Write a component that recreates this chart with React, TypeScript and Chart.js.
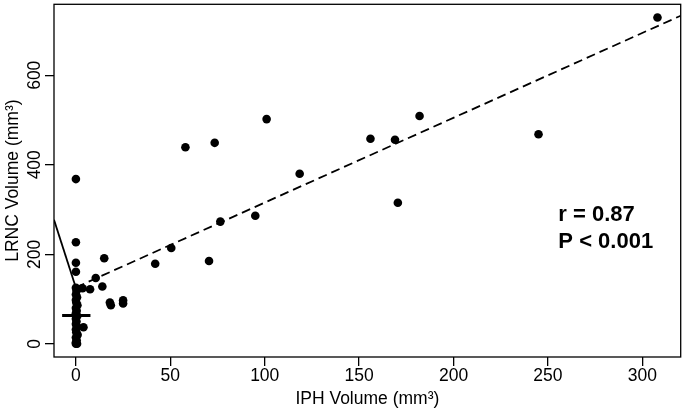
import { useEffect, useRef } from "react";
import { Chart, registerables } from "chart.js";

Chart.register(...registerables);

// IPH volume (x) and LRNC volume (y) for each plaque, in mm³
const iphVolume = [
  308, 245, 182, 169, 156, 170.5, 118.5, 101, 95, 76.5, 73.5, 70.5, 58, 50.5, 42,
  25, 25, 18, 18.5, 15, 14, 10.5, 7.5, 3.5, 4,
  0, 0, 0, 0, 0,
  0.3, 0, 0.6, 0, 0.2, 0.8, 0, 0.4, 0, 0.7, 0, 0.3, 0, 0.6, 0, 0.2, 0.9, 0, 0.4, 0, 0.6, 0,
];
const lrncVolume = [
  729, 468, 509, 456, 458, 315, 380, 502, 286, 273, 449, 185, 439, 214, 179,
  97, 90, 92, 86, 191, 128, 147, 122, 124, 37,
  368, 227, 181, 161, 125,
  118, 110, 104, 98, 92, 86, 80, 74, 68, 62, 56, 50, 44, 38, 32, 26, 20, 14, 8, 3, 0, 0,
];

const xTicks = [0, 50, 100, 150, 200, 250, 300];
const yTicks = [0, 200, 400, 600];
const xRange = [-11.6, 320.3];
const yRange = [-29.5, 758.5];

// regression line (dashed), left solid segment, and median marker
const fitLineX = [0, 320.3];
const fitLineY = [126, 733];
const leftLineX = [-11.6, 0];
const leftLineY = [277, 125];
const markerX = [-7.3, 7.7];
const markerY = [63, 63];

const statLabels = ["r = 0.87", "P < 0.001"];
const statAnchor = [255.5, 274];

const FONT = "'Liberation Sans', Arial, Helvetica, sans-serif";

const toXY = (xs: number[], ys: number[]) => xs.map((x, i) => ({ x, y: ys[i] }));

export default function App() {
  const ref = useRef<HTMLCanvasElement | null>(null);

  useEffect(() => {
    document.body.style.margin = "0";
    const canvas = ref.current;
    if (!canvas) return;

    const boxPlugin = {
      id: "boxAndStats",
      afterDraw(chart: any) {
        const { ctx, chartArea } = chart;
        ctx.save();
        ctx.strokeStyle = "#000";
        ctx.lineWidth = 1.3;
        ctx.strokeRect(chartArea.left, chartArea.top, chartArea.right - chartArea.left, chartArea.bottom - chartArea.top);
        const xs = chart.scales.x;
        const ys = chart.scales.y;
        const px = xs.getPixelForValue(statAnchor[0]);
        const py = ys.getPixelForValue(statAnchor[1]);
        ctx.fillStyle = "#000";
        ctx.font = `bold 22px ${FONT}`;
        ctx.textAlign = "left";
        ctx.textBaseline = "alphabetic";
        statLabels.forEach((t, i) => ctx.fillText(t, px, py + i * 27));
        ctx.restore();
      },
    };

    const chart = new Chart(canvas, {
      type: "scatter",
      data: {
        datasets: [
          {
            type: "scatter",
            data: toXY(iphVolume, lrncVolume),
            pointRadius: 4.3,
            pointHoverRadius: 4.3,
            backgroundColor: "#000",
            borderWidth: 0,
          },
          {
            type: "line",
            data: toXY(fitLineX, fitLineY),
            borderColor: "#000",
            borderWidth: 1.8,
            borderDash: [9, 5],
            pointRadius: 0,
            fill: false,
          },
          {
            type: "line",
            data: toXY(leftLineX, leftLineY),
            borderColor: "#000",
            borderWidth: 1.8,
            pointRadius: 0,
            fill: false,
          },
          {
            type: "line",
            data: toXY(markerX, markerY),
            borderColor: "#000",
            borderWidth: 3,
            pointRadius: 0,
            fill: false,
          },
        ],
      } as any,
      options: {
        animation: false,
        responsive: false,
        devicePixelRatio: 1,
        layout: { padding: { top: 1, right: 2, left: 0, bottom: 0 } },
        plugins: { legend: { display: false }, tooltip: { enabled: false } },
        scales: {
          x: {
            type: "linear",
            min: xRange[0],
            max: xRange[1],
            afterBuildTicks: (s: any) => {
              s.ticks = xTicks.map((v) => ({ value: v }));
            },
            afterFit: (s: any) => {
              s.height = 53;
              s.paddingLeft = 0;
              s.paddingRight = 0;
              s.paddingTop = 0;
              s.paddingBottom = 0;
            },
            border: { display: false },
            grid: { display: true, drawOnChartArea: false, drawTicks: true, tickLength: 9, color: "#000", lineWidth: 1.3 },
            ticks: { color: "#000", font: { family: FONT, size: 17.5 }, padding: 0, maxRotation: 0, minRotation: 0 },
            title: { display: true, text: "IPH Volume (mm³)", color: "#000", font: { family: FONT, size: 17.5 }, padding: { top: 0, bottom: 0 } },
          },
          y: {
            type: "linear",
            min: yRange[0],
            max: yRange[1],
            afterBuildTicks: (s: any) => {
              s.ticks = yTicks.map((v) => ({ value: v }));
            },
            afterFit: (s: any) => {
              s.width = 54;
              s.paddingLeft = 0;
              s.paddingRight = 0;
              s.paddingTop = 0;
              s.paddingBottom = 0;
            },
            border: { display: false },
            grid: { display: true, drawOnChartArea: false, drawTicks: true, tickLength: 9, color: "#000", lineWidth: 1.3 },
            ticks: { color: "#000", font: { family: FONT, size: 17.5 }, padding: -5, minRotation: 90, maxRotation: 90, crossAlign: "center" },
            title: { display: true, text: "LRNC Volume (mm³)", color: "#000", font: { family: FONT, size: 17.5 }, padding: { top: 3, bottom: 0 } },
          },
        },
      } as any,
      plugins: [boxPlugin],
    });

    return () => chart.destroy();
  }, []);

  return (
    <div style={{ width: 685, height: 410 }}>
      <canvas ref={ref} width={685} height={410} style={{ display: "block" }} />
    </div>
  );
}
